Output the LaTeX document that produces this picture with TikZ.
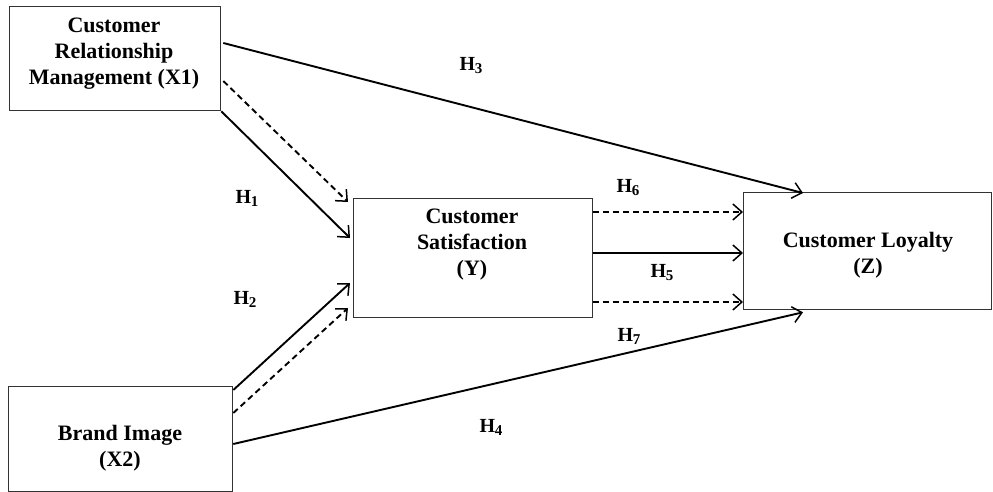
\documentclass[tikz,border=0pt]{standalone}
\usepackage{fontspec}
\setmainfont{Liberation Serif}
\usetikzlibrary{arrows.meta,calc}
\begin{document}
\begin{tikzpicture}[x=1pt,y=-1pt,
  box/.style={draw=black!80, line width=1.3pt, inner sep=0pt, anchor=north west},
  txt/.style={font=\fontsize{22}{26}\selectfont\bfseries, align=center},
  hlab/.style={font=\fontsize{20}{20}\selectfont\bfseries},
  conn/.style={line width=1.9pt, -{Straight Barb[length=9pt,width=16pt,line width=1.5pt]}},
  dconn/.style={conn, dash pattern=on 6pt off 4pt}]
\useasboundingbox (0,0) rectangle (993,492);
\newcommand{\hsub}[1]{H\kern-0.5pt\raisebox{-3pt}{\fontsize{15}{15}\selectfont #1}}
% boxes
\node[box, minimum width=211pt, minimum height=104pt] (x1) at (9,6) {};
\node[box, minimum width=224pt, minimum height=105pt] (x2) at (8,386) {};
\node[box, minimum width=239pt, minimum height=119pt] (y) at (353,198) {};
\node[box, minimum width=248pt, minimum height=117pt] (z) at (743,192) {};
% texts
\node[txt] (tx1) at (114,54) {Customer\\Relationship\\Management (X1)};
\node[txt] (tx2) at (120,448) {Brand Image\\(X2)};
\node[txt] (ty) at (472,245) {Customer\\Satisfaction\\(Y)};
\node[txt] (tz) at (868,255) {Customer Loyalty\\(Z)};
% connectors
\draw[conn] ($(x1.north east)+(2,37)$) -- ($(z.north west)+(60,1)$);
\draw[dconn] ($(x1.north east)+(2,75)$) -- ($(y.north west)+(-5,4)$);
\draw[conn] (x1.south east) -- ($(y.north west)+(-3,40)$);
\draw[conn] ($(x2.north east)+(0,4)$) -- ($(y.north west)+(-3,85)$);
\draw[dconn] ($(x2.north east)+(0,27)$) -- ($(y.north west)+(-5,110)$);
\draw[conn] ($(x2.north east)+(0,58)$) -- ($(z.south west)+(60,2)$);
\coordinate (a6) at ($(y.north east)+(0,14)$);
\coordinate (a5) at ($(y.north east)+(0,55)$);
\coordinate (a7) at ($(y.north east)+(0,104)$);
\draw[dconn] (a6) -- (a6 -| z.west);
\draw[conn] (a5) -- (a5 -| z.west);
\draw[dconn] (a7) -- (a7 -| z.west);
% labels
\node[hlab] (h3) at (471,66) {\hsub{3}};
\node[hlab] (h1) at (247,198) {\hsub{1}};
\node[hlab] (h2) at (245,299) {\hsub{2}};
\node[hlab] (h6) at (628,188) {\hsub{6}};
\node[hlab] (h5) at (662,273) {\hsub{5}};
\node[hlab] (h7) at (629,336) {\hsub{7}};
\node[hlab] (h4) at (491,427) {\hsub{4}};
\end{tikzpicture}
\end{document}
